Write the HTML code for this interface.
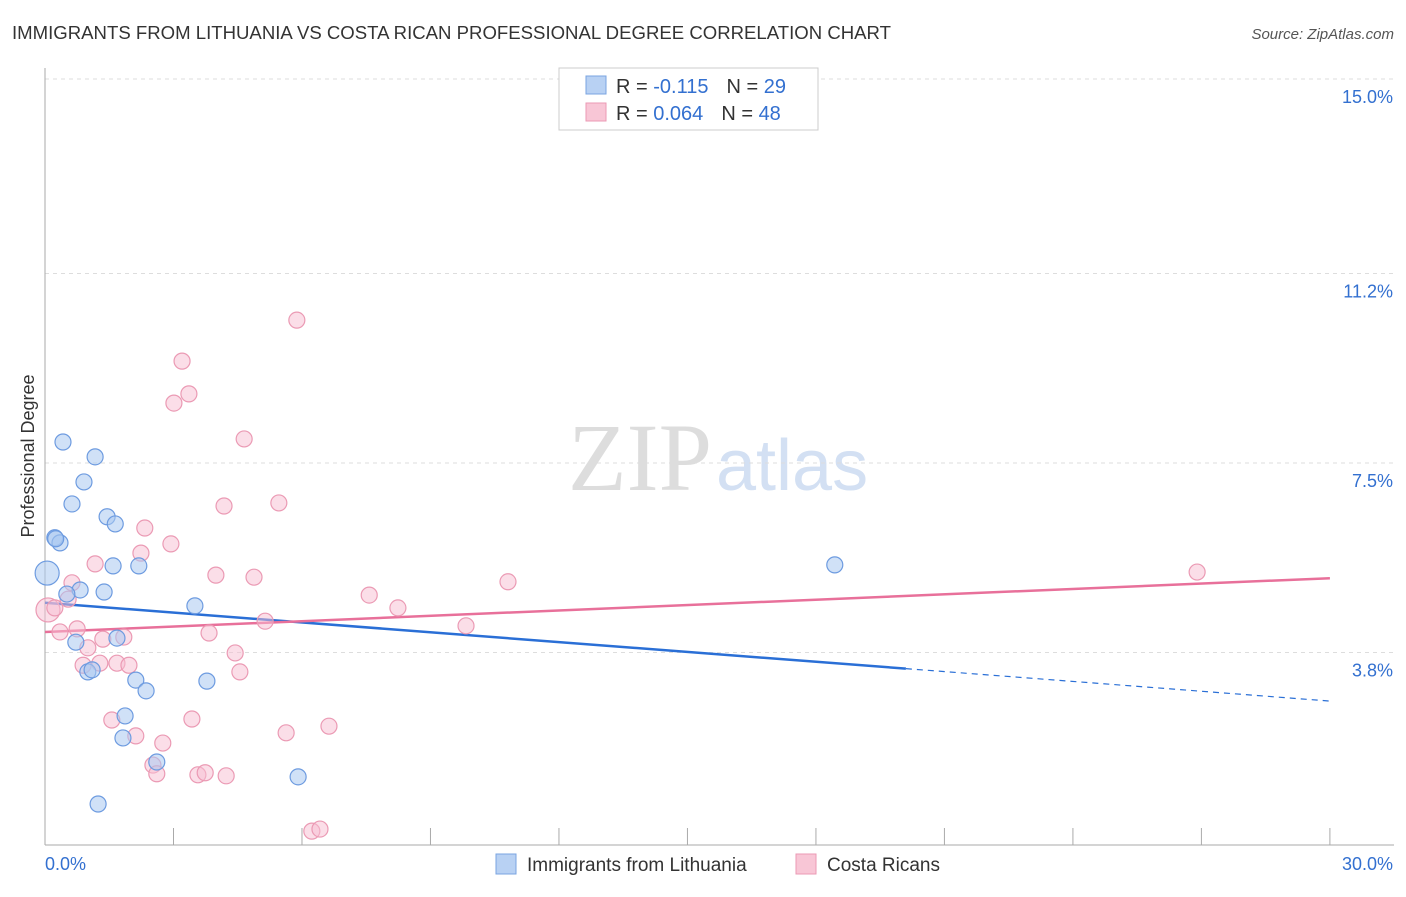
<!DOCTYPE html>
<html><head><meta charset="utf-8"><style>
body{margin:0;background:#fff;font-family:"Liberation Sans",sans-serif;}
</style></head><body>
<svg id="chart" width="1406" height="892" xmlns="http://www.w3.org/2000/svg">
<text x="12" y="39" font-size="18" fill="#333" textLength="879" lengthAdjust="spacingAndGlyphs">IMMIGRANTS FROM LITHUANIA VS COSTA RICAN PROFESSIONAL DEGREE CORRELATION CHART</text>
<text x="1394" y="39" font-size="15" fill="#555" font-style="italic" text-anchor="end">Source: ZipAtlas.com</text>
<text x="34" y="456" font-size="18" fill="#333" text-anchor="middle" transform="rotate(-90 34 456)">Professional Degree</text>
<text x="712" y="490" font-size="96" fill="#ddd" text-anchor="end" font-family="Liberation Serif">ZIP</text>
<text x="716" y="490" font-size="72" fill="#d3e0f3">atlas</text>
<g id="grid"></g><g id="axes"></g><g id="lines"></g><g id="pts"></g>
<g>
<rect x="559" y="68" width="259" height="62" fill="#fff" stroke="#ccc"/>
<rect x="586" y="76" width="20" height="18" fill="#b8d1f3" stroke="#7aa4e0"/>
<rect x="586" y="103" width="20" height="18" fill="#f8c6d6" stroke="#eb9ab4"/>
<text x="616" y="93" font-size="20" fill="#333">R = <tspan fill="#3370d0">-0.115</tspan><tspan dx="18">N = </tspan><tspan fill="#3370d0">29</tspan></text>
<text x="616" y="120" font-size="20" fill="#333">R = <tspan fill="#3370d0">0.064</tspan><tspan dx="18">N = </tspan><tspan fill="#3370d0">48</tspan></text>
</g>
<g>
<rect x="496" y="854" width="20" height="20" fill="#b8d1f3" stroke="#7aa4e0"/>
<text x="527" y="871" font-size="19" fill="#333">Immigrants from Lithuania</text>
<rect x="796" y="854" width="20" height="20" fill="#f8c6d6" stroke="#eb9ab4"/>
<text x="827" y="871" font-size="19" fill="#333">Costa Ricans</text>
</g>
</svg>
<script>
const yTicks=[3.8,7.5,11.2,15.0];
const yTickLabels=["3.8%","7.5%","11.2%","15.0%"];
const blueX=[0.05,0.23,0.35,0.42,1.17,0.91,0.63,1.45,1.64,1.59,2.19,0.82,1.38,0.51,3.50,1.68,0.72,1.00,1.10,2.12,2.36,3.78,1.87,1.82,2.61,5.91,1.24,18.44,0.25];
const blueY=[5.35,6.04,5.94,7.91,7.62,7.13,6.70,6.45,6.31,5.49,5.49,5.02,4.98,4.94,4.71,4.08,4.00,3.42,3.46,3.26,3.05,3.24,2.56,2.13,1.66,1.37,0.84,5.51,6.02];
const pinkX=[0.07,0.23,0.35,0.63,0.54,0.75,1.17,2.33,2.24,2.94,3.20,3.01,3.36,4.65,4.18,5.46,5.88,3.99,4.88,5.14,3.83,4.44,4.55,7.57,8.24,9.83,10.81,26.90,1.00,1.28,1.35,1.68,1.84,1.96,0.89,1.56,2.12,2.75,3.43,2.52,2.61,3.57,3.74,4.23,5.63,6.63,6.23,6.42];
const pinkY=[4.63,4.67,4.2,5.16,4.84,4.26,5.53,6.23,5.74,5.92,9.49,8.67,8.85,7.97,6.66,6.72,10.29,5.31,5.27,4.41,4.18,3.79,3.42,4.92,4.67,4.32,5.18,5.37,3.89,3.59,4.06,3.59,4.1,3.55,3.55,2.48,2.17,2.03,2.5,1.6,1.43,1.41,1.45,1.39,2.23,2.36,0.31,0.35];
const blueTrend=[4.77,2.85], pinkTrend=[4.2,5.25];
const X=v=>45+v*42.83, Y=v=>847-v*51.2;
const NS="http://www.w3.org/2000/svg";
function mk(p,t,a){const e=document.createElementNS(NS,t);for(const k in a)e.setAttribute(k,a[k]);document.getElementById(p).appendChild(e);return e;}
yTicks.forEach((t,i)=>{
 const l=mk('grid','line',{x1:45,x2:1394,y1:Y(t),y2:Y(t),stroke:'#ddd','stroke-dasharray':'4 4'});
 
 
 const tx=mk('grid','text',{x:1393,y:Y(t)+24,'font-size':18,fill:'#3370d0','text-anchor':'end'});
 tx.textContent=yTickLabels[i];
 
 
});
mk('axes','line',{x1:45,x2:45,y1:68,y2:845,stroke:'#aaa'});
mk('axes','line',{x1:45,x2:1394,y1:845,y2:845,stroke:'#aaa'});
for(let i=0;i<=10;i++){const x=X(i*3);const t=mk('axes','line',{x1:x,x2:x,y1:828,y2:845,stroke:'#aaa'});}
let a=mk('axes','text',{x:45,y:870,'font-size':18,fill:'#3370d0'});a.textContent='0.0%';

a=mk('axes','text',{x:1393,y:870,'font-size':18,fill:'#3370d0','text-anchor':'end'});a.textContent='30.0%';

const bAt=x=>blueTrend[0]+(blueTrend[1]-blueTrend[0])*x/30;
let ln=mk('lines','line',{x1:X(0),y1:Y(bAt(0)),x2:X(20.1),y2:Y(bAt(20.1)),stroke:'#2a6fd6','stroke-width':2.5});

ln=mk('lines','line',{x1:X(20.1),y1:Y(bAt(20.1)),x2:X(30),y2:Y(bAt(30)),stroke:'#2a6fd6','stroke-width':1.2,'stroke-dasharray':'6 5'});

ln=mk('lines','line',{x1:X(0),y1:Y(pinkTrend[0]),x2:X(30),y2:Y(pinkTrend[1]),stroke:'#e8709a','stroke-width':2.5});

pinkX.forEach((v,i)=>{const c=mk('pts','circle',{cx:X(v),cy:Y(pinkY[i]),r:i==0?12:8,fill:'rgba(248,190,210,0.5)',stroke:'#eb9ab4','stroke-width':1.2});
 });
blueX.forEach((v,i)=>{const c=mk('pts','circle',{cx:X(v),cy:Y(blueY[i]),r:i==0?12:8,fill:'rgba(170,200,240,0.55)',stroke:'#6d9be0','stroke-width':1.2});
 });
</script>
</body></html>
